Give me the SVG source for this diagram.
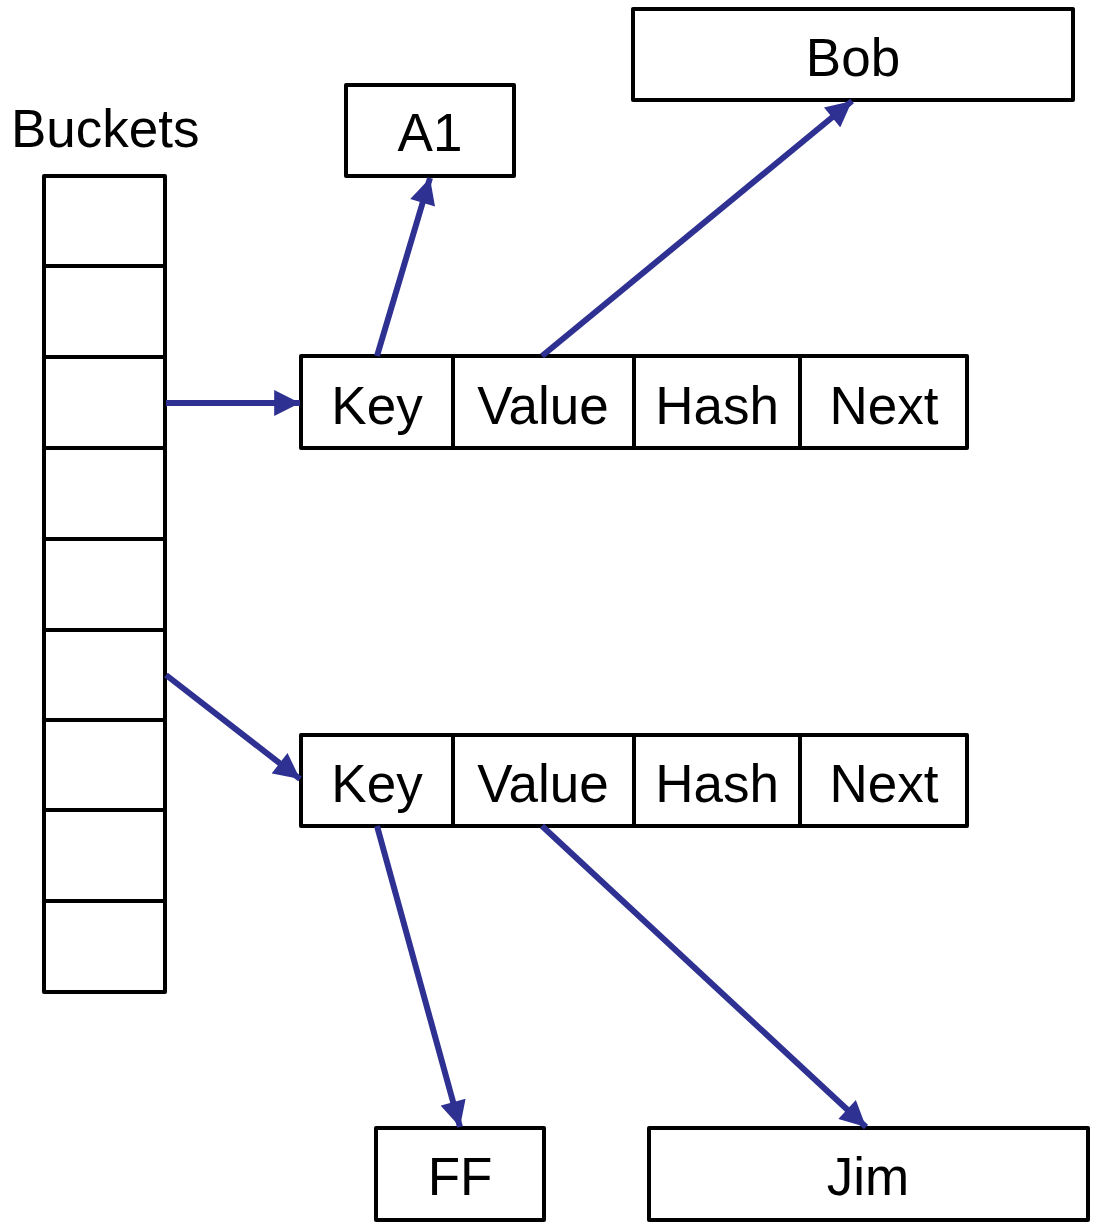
<svg xmlns="http://www.w3.org/2000/svg" width="1093" height="1225" viewBox="0 0 1093 1225">
<style>
.box{fill:#fff;stroke:#000;stroke-width:4;stroke-linejoin:round}
.div{stroke:#000;stroke-width:4}
.t{font-family:"Liberation Sans",Arial,sans-serif;font-size:53px;fill:#000;text-anchor:middle}
.c{stroke:#2E3192;stroke-width:6;fill:none;marker-end:url(#ah)}
</style>
<defs>
<marker id="ah" viewBox="0 0 10 10" refX="10" refY="5" markerWidth="4.5" markerHeight="4.3" orient="auto" markerUnits="strokeWidth">
<path d="M0,0 L10,5 L0,10 Z" fill="#2E3192"/>
</marker>
</defs>
<rect width="1093" height="1225" fill="#fff"/>
<g id="buckets">
<text x="11" y="147" class="t" style="text-anchor:start">Buckets</text>
<rect class="box" x="44" y="176" width="121" height="816"/>
<line class="div" x1="44" y1="266" x2="165" y2="266"/>
<line class="div" x1="44" y1="357" x2="165" y2="357"/>
<line class="div" x1="44" y1="448" x2="165" y2="448"/>
<line class="div" x1="44" y1="539" x2="165" y2="539"/>
<line class="div" x1="44" y1="630" x2="165" y2="630"/>
<line class="div" x1="44" y1="720" x2="165" y2="720"/>
<line class="div" x1="44" y1="810" x2="165" y2="810"/>
<line class="div" x1="44" y1="901" x2="165" y2="901"/>
</g>
<g id="entry1">
<rect class="box" x="301" y="356" width="666" height="92"/>
<line class="div" x1="453" y1="356" x2="453" y2="448"/>
<line class="div" x1="634" y1="356" x2="634" y2="448"/>
<line class="div" x1="800" y1="356" x2="800" y2="448"/>
<text class="t" x="377" y="424">Key</text>
<text class="t" x="543" y="424">Value</text>
<text class="t" x="717" y="424">Hash</text>
<text class="t" x="884" y="424">Next</text>
</g>
<g id="entry2">
<rect class="box" x="301" y="735" width="666" height="91"/>
<line class="div" x1="453" y1="735" x2="453" y2="826"/>
<line class="div" x1="634" y1="735" x2="634" y2="826"/>
<line class="div" x1="800" y1="735" x2="800" y2="826"/>
<text class="t" x="377" y="802">Key</text>
<text class="t" x="543" y="802">Value</text>
<text class="t" x="717" y="802">Hash</text>
<text class="t" x="884" y="802">Next</text>
</g>
<g id="a1">
<rect class="box" x="346" y="85" width="168" height="91"/>
<text class="t" x="430" y="151">A1</text>
</g>
<g id="bob">
<rect class="box" x="633" y="9" width="440" height="91"/>
<text class="t" x="853" y="76">Bob</text>
</g>
<g id="ff">
<rect class="box" x="376" y="1128" width="168" height="92"/>
<text class="t" x="460" y="1195">FF</text>
</g>
<g id="jim">
<rect class="box" x="649" y="1128" width="439" height="92"/>
<text class="t" x="868" y="1195">Jim</text>
</g>
<g id="connectors">
<line class="c" x1="166" y1="403" x2="300" y2="403"/>
<line class="c" x1="166" y1="675" x2="300" y2="779"/>
<line class="c" x1="377" y1="356" x2="430" y2="178"/>
<line class="c" x1="542" y1="356" x2="852" y2="101"/>
<line class="c" x1="377" y1="826" x2="460" y2="1127"/>
<line class="c" x1="542" y1="826" x2="866" y2="1127"/>
</g>
</svg>
